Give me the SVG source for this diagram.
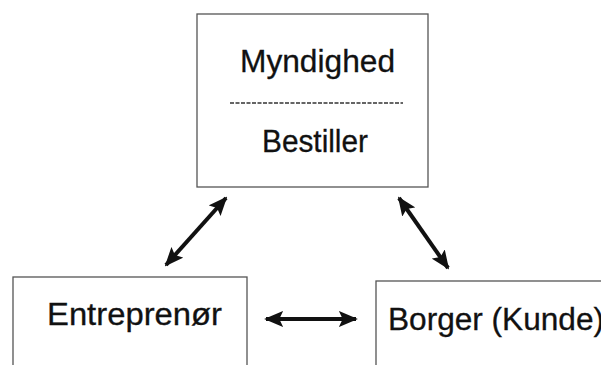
<svg xmlns="http://www.w3.org/2000/svg" width="601" height="365" viewBox="0 0 601 365">
<defs>
<style>
.box{fill:#fff;stroke:#555;stroke-width:1.3}
.t{font-family:"Liberation Sans",Arial,sans-serif;font-size:31px;fill:#111;stroke:#111;stroke-width:0.3}
.c{stroke:#111;stroke-width:4;fill:none;marker-start:url(#a);marker-end:url(#a)}
</style>
<marker id="a" viewBox="0 0 10 10" refX="9" refY="5" markerUnits="userSpaceOnUse" markerWidth="19" markerHeight="16" orient="auto-start-reverse" preserveAspectRatio="none">
<path d="M0,0 L10,5 L0,10 L2,5 Z" fill="#111"/>
</marker>
</defs>
<rect width="601" height="365" fill="#fff"/>
<g id="myndighed">
<rect class="box" x="197" y="14" width="231" height="173"/>
<text class="t" x="240" y="72" textLength="155" lengthAdjust="spacingAndGlyphs">Myndighed</text>
<line x1="230" y1="103" x2="403" y2="103" stroke="#333" stroke-width="1.5" stroke-dasharray="4,1.5"/>
<text class="t" x="262" y="152" textLength="106" lengthAdjust="spacingAndGlyphs">Bestiller</text>
</g>
<g id="entreprenor">
<rect class="box" x="13" y="277" width="234" height="100"/>
<text class="t" x="47" y="325" textLength="175" lengthAdjust="spacingAndGlyphs">Entreprenør</text>
</g>
<g id="borger">
<rect class="box" x="376" y="281" width="240" height="100"/>
<text class="t" x="388" y="330" textLength="216" lengthAdjust="spacingAndGlyphs">Borger (Kunde)</text>
</g>
<g id="connectors">
<line class="c" x1="166" y1="265" x2="226" y2="198"/>
<line class="c" x1="399" y1="198" x2="448" y2="268"/>
<line class="c" x1="266" y1="319" x2="356" y2="319"/>
</g>
</svg>
